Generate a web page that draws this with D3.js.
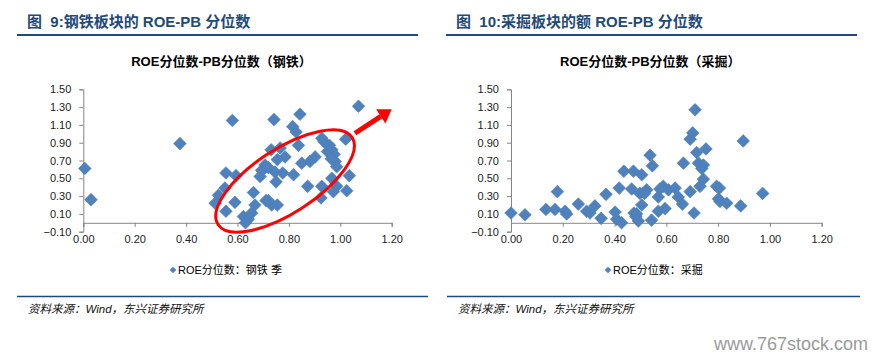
<!DOCTYPE html>
<html><head><meta charset="utf-8">
<script src="https://cdn.jsdelivr.net/npm/d3@7/dist/d3.min.js"></script>
<style>
body{margin:0;background:#fff;}
svg{display:block;}
</style></head>
<body><svg id="c" width="874" height="359"></svg>
<script>
// ---- data ----
const steelX = [0.006,0.030,0.376,0.580,0.742,0.843,1.071,0.815,0.828,0.837,1.021,0.928,0.937,0.958,0.967,0.976,0.980,0.986,0.950,0.902,0.882,0.850,0.731,0.766,0.785,0.755,0.707,0.694,0.688,0.746,0.776,0.818,0.750,0.555,0.594,0.551,0.526,0.513,0.555,0.590,0.662,0.668,0.711,0.733,0.755,0.623,0.642,0.655,0.631,0.873,0.925,0.928,0.973,0.986,1.025,1.035,0.967,0.700,0.720,0.965,0.720];
const steelY = [0.61,0.26,0.89,1.15,1.16,1.22,1.31,1.08,1.02,0.87,0.94,0.95,0.91,0.87,0.82,0.77,0.69,0.63,0.80,0.74,0.69,0.67,0.82,0.84,0.74,0.71,0.65,0.59,0.52,0.57,0.56,0.54,0.46,0.56,0.53,0.39,0.31,0.22,0.13,0.23,0.34,0.20,0.25,0.20,0.20,0.07,0.04,0.11,0.00,0.41,0.28,0.41,0.35,0.41,0.36,0.53,0.50,0.60,0.25,0.72,0.62];
const mineX = [0.000,0.054,0.135,0.170,0.179,0.209,0.215,0.260,0.292,0.305,0.324,0.348,0.367,0.402,0.418,0.408,0.427,0.436,0.473,0.466,0.475,0.482,0.492,0.505,0.498,0.505,0.524,0.537,0.546,0.543,0.569,0.569,0.588,0.595,0.608,0.634,0.646,0.662,0.666,0.692,0.692,0.702,0.711,0.707,0.717,0.724,0.737,0.743,0.753,0.730,0.743,0.794,0.805,0.801,0.807,0.833,0.887,0.897,0.972,0.575,0.516,0.485];
const mineY = [0.11,0.09,0.15,0.15,0.35,0.13,0.10,0.21,0.13,0.11,0.19,0.05,0.32,0.12,0.39,0.04,0.00,0.58,0.58,0.38,0.11,0.07,0.02,0.54,0.33,0.20,0.37,0.76,0.64,0.03,0.29,0.13,0.41,0.16,0.37,0.39,0.29,0.21,0.67,0.35,0.94,1.01,1.27,0.11,0.79,0.67,0.61,0.65,0.83,0.41,0.49,0.41,0.39,0.27,0.24,0.22,0.19,0.92,0.33,0.38,0.33,0.10];
const xTicks = [0,0.2,0.4,0.6,0.8,1.0,1.2];
const yTicks = [-0.1,0.1,0.3,0.5,0.7,0.9,1.1,1.3,1.5];
const figTitles = ["图  9:钢铁板块的 ROE-PB 分位数", "图  10:采掘板块的额 ROE-PB 分位数"];
const chartTitles = ["ROE分位数-PB分位数（钢铁）", "ROE分位数-PB分位数（采掘）"];
const legendLabels = ["ROE分位数：钢铁 季", "ROE分位数：采掘"];
const sourceText = "资料来源：Wind，东兴证券研究所";
// annotation (left chart) in data units
const ellipseAnno = {cx:0.785, cy:0.47, angle:-33};
const arrowAnno = {x1:1.057, y1:1.006, x2:1.20, y2:1.275};

const svg = d3.select("#c");
const FONT = "'Liberation Sans','Noto Sans CJK SC',sans-serif";
const BLUE = "#4F81BD";
const NAVY = "#1F4A7A";

const panels = [
  {x0:0, xr:[83.3,391.7], xs:steelX, ys:steelY, titleX:27, ruleX:[17,428], topRuleX:[17,418], legendX:173},
  {x0:440, xr:[511,821.7], xs:mineX, ys:mineY, titleX:456, ruleX:[447,860], topRuleX:[446,857], legendX:608}
];

panels.forEach((p,i)=>{
  const g = svg.append("g");
  const x = d3.scaleLinear().domain([0,1.2]).range(p.xr);
  const y = d3.scaleLinear().domain([-0.1,1.5]).range([231.7,89.3]);
  // figure title
  g.append("text").attr("x",p.titleX).attr("y",27).attr("font-family",FONT)
    .attr("font-size",15).attr("font-weight","bold").attr("fill",NAVY).attr("xml:space","preserve")
    .text(figTitles[i]);
  g.append("line").attr("x1",p.topRuleX[0]).attr("x2",p.topRuleX[1]).attr("y1",35).attr("y2",35)
    .attr("stroke",NAVY).attr("stroke-width",2);
  // chart title
  g.append("text").attr("x",(p.xr[0]+p.xr[1])/2 - 16).attr("y",66).attr("text-anchor","middle")
    .attr("font-family",FONT).attr("font-size",13).attr("font-weight","bold").attr("fill","#000")
    .text(chartTitles[i]);
  // axes
  const yAxis = d3.axisLeft(y).tickValues(yTicks).tickSize(4).tickFormat(d3.format(".2f"));
  const ga = g.append("g").attr("transform",`translate(${p.xr[0]},0)`).call(yAxis);
  ga.select(".domain").attr("stroke","#868686");
  ga.selectAll(".tick line").attr("stroke","#868686");
  ga.selectAll(".tick text").attr("font-family",FONT).attr("font-size",11).attr("fill","#222").attr("x",-12);
  const xAxis = d3.axisBottom(x).tickValues(xTicks).tickSize(4).tickFormat(d3.format(".2f"));
  const gx = g.append("g").attr("transform",`translate(0,${y(0)})`).call(xAxis);
  gx.select(".domain").attr("stroke","#868686");
  gx.selectAll(".tick line").attr("stroke","#868686");
  gx.selectAll(".tick text").attr("font-family",FONT).attr("font-size",11).attr("fill","#222")
    .attr("y", y(-0.1)-y(0)+3);
  // points
  const sym = d3.symbol().type(d3.symbolSquare).size(80);
  g.append("g").selectAll("path").data(p.xs.map((v,k)=>[v,p.ys[k]])).join("path")
    .attr("d",sym).attr("transform",d=>`translate(${x(d[0])},${y(d[1])}) rotate(45)`)
    .attr("fill",BLUE).attr("stroke","#4A7EBB").attr("stroke-width",0.6);
  // annotations
  if(i===0){
    const cx=x(ellipseAnno.cx), cy=y(ellipseAnno.cy);
    g.append("ellipse").attr("cx",0).attr("cy",0).attr("rx",x(0.311)-x(0)).attr("ry",y(0)-y(0.36))
      .attr("transform",`translate(${cx},${cy}) rotate(${ellipseAnno.angle})`)
      .attr("fill","none").attr("stroke","#FF0000").attr("stroke-width",3);
    const ax1=x(arrowAnno.x1), ay1=y(arrowAnno.y1), ax2=x(arrowAnno.x2), ay2=y(arrowAnno.y2);
    const ang=Math.atan2(ay2-ay1, ax2-ax1);
    const hl=13, hw=8.5;
    const bx=ax2-hl*Math.cos(ang), by=ay2-hl*Math.sin(ang);
    g.append("line").attr("x1",ax1).attr("y1",ay1).attr("x2",bx).attr("y2",by)
      .attr("stroke","#FF0000").attr("stroke-width",5);
    g.append("path").attr("d",`M${ax2},${ay2}L${bx+hw*Math.sin(ang)},${by-hw*Math.cos(ang)}L${bx-hw*Math.sin(ang)},${by+hw*Math.cos(ang)}Z`)
      .attr("fill","#FF0000");
  }
  // legend
  g.append("path").attr("d",d3.symbol().type(d3.symbolSquare).size(22))
    .attr("transform",`translate(${p.legendX},270) rotate(45)`).attr("fill",BLUE);
  g.append("text").attr("x",p.legendX+5).attr("y",274).attr("font-family",FONT).attr("font-size",11)
    .attr("fill","#000").text(legendLabels[i]);
  // bottom rule & source
  g.append("line").attr("x1",p.ruleX[0]).attr("x2",p.ruleX[1]).attr("y1",296.5).attr("y2",296.5)
    .attr("stroke",NAVY).attr("stroke-width",1.5);
  g.append("text").attr("x",p.ruleX[0]+11).attr("y",313).attr("font-family",FONT).attr("font-size",11.5)
    .attr("font-style","italic").attr("fill","#111").text(sourceText);
});
// watermark
svg.append("text").attr("x",714).attr("y",350).attr("font-family","'Liberation Sans Narrow','Liberation Sans',sans-serif")
  .attr("font-size",18).attr("fill","#9a9a9a").attr("textLength",154).attr("lengthAdjust","spacingAndGlyphs")
  .text("www.767stock.com");
</script></body></html>
